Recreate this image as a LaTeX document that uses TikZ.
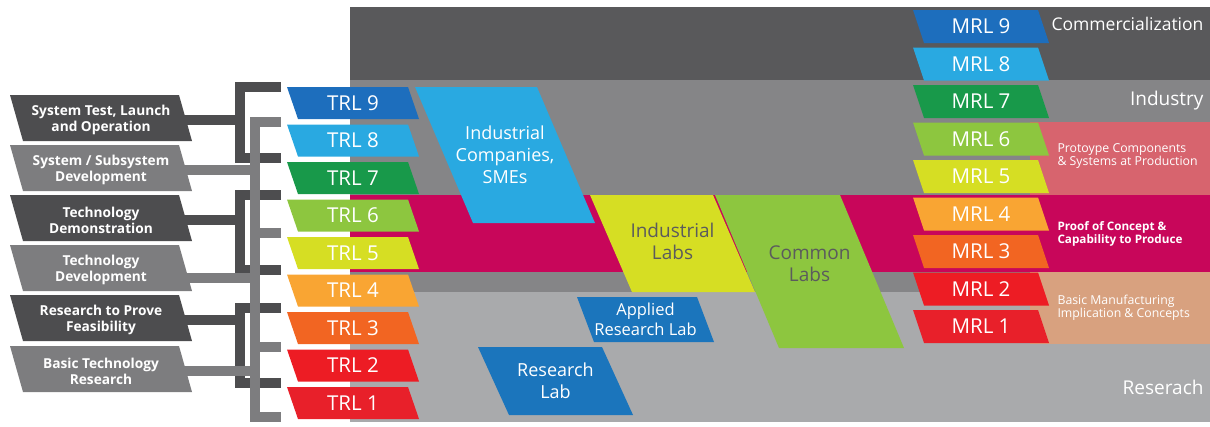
\documentclass[tikz,border=0pt]{standalone}
\usepackage{fontspec}
\setmainfont{Open Sans}
\usepackage{tikz}
\usetikzlibrary{calc}
\definecolor{c9}{HTML}{1D6EBD}
\definecolor{c8}{HTML}{29A9E1}
\definecolor{c7}{HTML}{18994A}
\definecolor{c6}{HTML}{8DC63F}
\definecolor{c5}{HTML}{D6DE23}
\definecolor{c4}{HTML}{F9A533}
\definecolor{c3}{HTML}{F26522}
\definecolor{c2}{HTML}{ED1C24}
\definecolor{c1}{HTML}{E8202A}
\definecolor{labblue}{HTML}{1B75BC}
\definecolor{darkband}{HTML}{59595B}
\definecolor{midband}{HTML}{858587}
\definecolor{lightband}{HTML}{A9AAAC}
\definecolor{magband}{HTML}{C8065A}
\definecolor{salmon}{HTML}{D7646E}
\definecolor{peach}{HTML}{D8A17F}
\definecolor{sdark}{HTML}{4D4D4F}
\definecolor{smid}{HTML}{7D7D7F}
\definecolor{labtext}{HTML}{5B5B5D}
\tikzset{
  rowtxt/.style={text=white, font=\fontsize{20.5}{22}\selectfont},
  sidetxt/.style={text=white, align=center, font=\bfseries\fontsize{13.7}{16}\selectfont},
  blocktxt/.style={text=white, align=center, font=\fontsize{18}{22}\selectfont},
  labtxt/.style={text=labtext, align=center, font=\fontsize{19}{22}\selectfont},
  bandtxt/.style={text=white, anchor=east, font=\fontsize{19}{22}\selectfont},
  notetxt/.style={text=white, anchor=west, align=left, font=\fontsize{12.3}{13.5}\selectfont},
  dbar/.style={draw=sdark, line width=10pt},
  mbar/.style={draw=smid, line width=10pt},
}
% slanted box: name, fill, text style, top-left, width, height, skew, text
\newcommand{\pgram}[8]{%
  \fill[#2] (#4) -- ++(#5,0) -- ++(#7,#6) -- ++(-#5,0) -- cycle;
  \node[#3] (#1) at ($(#4)+(0.5*#5+0.5*#7,0.5*#6)$) {#8};
}

\begin{document}
\begin{tikzpicture}[x=1pt, y=-1pt]
  \useasboundingbox (0,0) rectangle (1210,426);

  % bands
  \fill[lightband] (350,80) rectangle (1210,422);
  \fill[midband] (350,80) rectangle (1210,292);
  \fill[darkband] (350,7) rectangle (1210,80);
  \fill[magband] (350,195) rectangle (1210,272);
  \fill[salmon] (1030,122) rectangle (1210,195);
  \fill[peach] (1030,272) rectangle (1210,344);

  % labs
  \pgram{icomp}{c8}{blocktxt}{415,87}{122}{136}{58}{Industrial\\Companies,\\SMEs}
  \pgram{ilabs}{c5}{labtxt, yshift=2pt}{590,195}{123}{97}{42}{Industrial\\Labs}
  \pgram{clabs}{c6}{labtxt, yshift=8pt}{715,195}{125}{153}{64}{Common\\Labs}
  \pgram{alab}{labblue}{blocktxt, font=\fontsize{16.5}{20}\selectfont}{577,297}{120}{45}{17}{Applied\\Research Lab}
  \pgram{rlab}{labblue}{blocktxt}{478,347}{124}{68}{31}{Research\\Lab}

  % readiness levels
  \foreach \n in {9,...,1} {
    \pgfmathsetmacro{\ty}{87+37.5*(9-\n)}
    \pgfmathsetmacro{\my}{10+37.5*(9-\n)}
    \pgram{trl\n}{c\n}{rowtxt}{287,\ty}{121}{32}{11}{TRL \n}
    \pgram{mrl\n}{c\n}{rowtxt}{913,\my}{125}{33}{11}{MRL \n}
  }

  % stages
  \pgram{l1}{sdark}{sidetxt, yshift=-2pt}{10,95}{169}{46}{13}{System Test, Launch\\and Operation}
  \pgram{l2}{smid}{sidetxt, yshift=-2pt}{10,145}{169}{46}{13}{System / Subsystem\\Development}
  \pgram{l3}{sdark}{sidetxt, yshift=-2pt}{10,195}{169}{46}{13}{Technology\\Demonstration}
  \pgram{l4}{smid}{sidetxt, yshift=-2pt}{10,245}{169}{46}{13}{Technology\\Development}
  \pgram{l5}{sdark}{sidetxt, yshift=-2pt}{10,295}{169}{46}{13}{Research to Prove\\Feasibility}
  \pgram{l6}{smid}{sidetxt, yshift=-2pt}{10,346}{169}{46}{13}{Basic Technology\\Research}

  \coordinate (xa) at (240,0);
  \coordinate (xb) at (255,0);
  \coordinate (k9) at (281,87);
  \coordinate (k8) at (281,122);
  \coordinate (k7) at (281,158);
  \coordinate (k6) at (281,195);
  \coordinate (k5) at (281,233);
  \coordinate (k4) at (281,270);
  \coordinate (k3) at (281,308);
  \coordinate (k2) at (281,347);
  \coordinate (k1) at (281,383);
  \coordinate (k0) at (281,417);

  % brackets
  \draw[dbar] (l1.east) -- (l1.east -| xa);
  \draw[dbar] (k9) -- (k9 -| xa) -- (k7 -| xa) -- (k7);
  \draw[dbar] (l3.east) -- (l3.east -| xa);
  \draw[dbar] (k6) -- (k6 -| xa) -- (k4 -| xa) -- (k4);
  \draw[dbar] (l5.east) -- (l5.east -| xa);
  \draw[dbar] (k3) -- (k3 -| xa) -- (k1 -| xa) -- (k1);
  \draw[mbar] (k8) -- (k8 -| xb) -- (k0 -| xb) -- (k0);
  \draw[mbar] (k5 -| xb) -- (k5);
  \draw[mbar] (k2 -| xb) -- (k2);
  \draw[mbar] (l2.east) -- (l2.east -| xb);
  \draw[mbar] ([yshift=-8pt]l4.east) -- ([yshift=-8pt]l4.east -| xb);
  \draw[mbar] (l6.east) -- (l6.east -| xb);

  % band names
  \node[bandtxt, font=\fontsize{17.5}{20}\selectfont] (comm) at (1207,24) {Commercialization};
  \node[bandtxt] (ind) at (1207,101) {Industry};
  \node[bandtxt] (res) at (1207,387) {Reserach};
  \node[notetxt] (proto) at (1054,156) {Protoype Components\\\& Systems at Production};
  \node[notetxt, font=\bfseries\fontsize{11.7}{13.5}\selectfont] (proof) at (1054,234) {Proof of Concept \&\\Capability to Produce};
  \node[notetxt] (basic) at (1054,308) {Basic Manufacturing\\Implication \& Concepts};
\end{tikzpicture}
\end{document}
